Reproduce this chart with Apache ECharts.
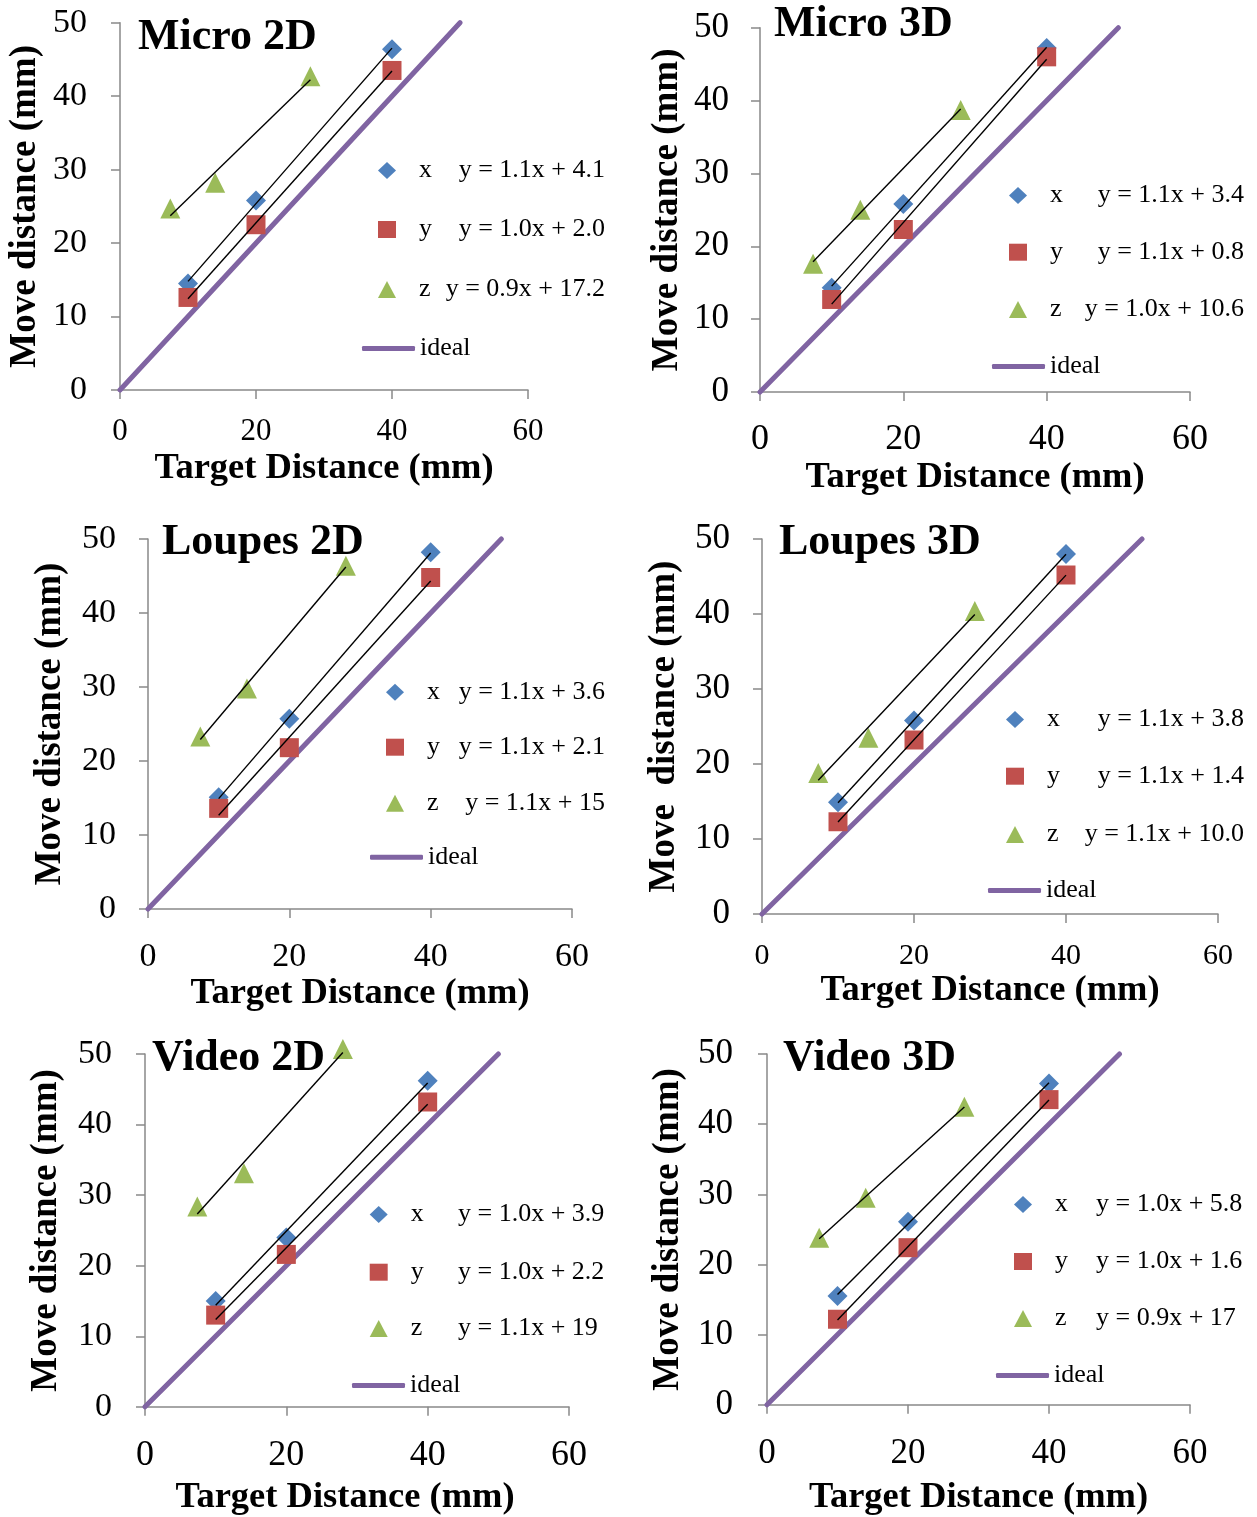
<!DOCTYPE html>
<html>
<head>
<meta charset="utf-8">
<script src="https://cdn.jsdelivr.net/npm/echarts@6/dist/echarts.min.js"></script>
<style>html,body{margin:0;padding:0;background:#fff}#c{width:1257px;height:1517px}</style>
</head>
<body>
<div id="c"></div>
<script>
// ---------- data ----------
const panelTitles = ['Micro 2D', 'Micro 3D', 'Loupes 2D', 'Loupes 3D', 'Video 2D', 'Video 3D'];
const xAxisName = 'Target Distance (mm)';
const yAxisNames = ['Move distance (mm)', 'Move distance (mm)', 'Move distance (mm)', 'Move  distance (mm)', 'Move distance (mm)', 'Move distance (mm)'];
const seriesNames = ['x', 'y', 'z'];
const idealName = 'ideal';
const targetXY = [10, 20, 40];
const targetZ = [7.4, 14, 28];
const moveX = [
  [14.5, 25.8, 46.4],
  [14.3, 25.8, 47.2],
  [15.1, 25.7, 48.2],
  [14.9, 25.8, 48.0],
  [15.0, 24.0, 46.2],
  [15.5, 26.1, 45.8]
];
const moveY = [
  [12.6, 22.5, 43.5],
  [12.7, 22.3, 46.0],
  [13.6, 21.8, 44.8],
  [12.3, 23.2, 45.2],
  [13.0, 21.6, 43.2],
  [12.2, 22.4, 43.5]
];
const moveZ = [
  [24.7, 28.2, 42.7],
  [17.6, 25.0, 38.7],
  [23.3, 29.8, 46.4],
  [18.8, 23.5, 40.4],
  [28.4, 33.1, 50.7],
  [23.8, 29.5, 42.5]
];
const eqX = ['y = 1.1x + 4.1', 'y = 1.1x + 3.4', 'y = 1.1x + 3.6', 'y = 1.1x + 3.8', 'y = 1.0x + 3.9', 'y = 1.0x + 5.8'];
const eqY = ['y = 1.0x + 2.0', 'y = 1.1x + 0.8', 'y = 1.1x + 2.1', 'y = 1.1x + 1.4', 'y = 1.0x + 2.2', 'y = 1.0x + 1.6'];
const eqZ = ['y = 0.9x + 17.2', 'y = 1.0x + 10.6', 'y = 1.1x + 15', 'y = 1.1x + 10.0', 'y = 1.1x + 19', 'y = 0.9x + 17'];
const idealLine = [[0, 0], [50, 50]];
const xRange = [0, 60], xStep = 20;
const yRange = [0, 50], yStep = 10;

// ---------- layout / style ----------
const FONT = "'Liberation Serif', 'Times New Roman', serif";
const COLORS = ['#4f81bd', '#c0504d', '#9bbb59'];
const SYMBOLS = ['diamond', 'rect', 'triangle'];
const SYMSIZE = [20, 19, 20];
const PURPLE = '#8064a2';
const AXIS_C = '#898989';
const TXT_HALF = 12.5; // half height of legend text box
const L = [
  {l:120, r:528, t:22.7, b:390, title:[138,16], yLab:34, xLab:31, yM:33, xM:26, xNG:60, yNG:76, xShift:0,
   leg:{cx:387, rows:[170,229,289], idealY:348, idealL:362, eqX:605, eqAlign:'right'}},
  {l:760, r:1190, t:27.7, b:392, title:[774,3], yLab:35, xLab:36, yM:31, xM:30, xNG:49, yNG:74.5, xShift:0,
   leg:{cx:1018, rows:[195,251.7,309], idealY:366, idealL:992, eqX:1244, eqAlign:'right'}},
  {l:148, r:572, t:539, b:909, title:[162,521], yLab:34, xLab:34, yM:32, xM:31.5, xNG:48.4, yNG:79, xShift:0,
   leg:{cx:395, rows:[691.7,746.7,802.7], idealY:856.7, idealL:370, eqX:605, eqAlign:'right'}},
  {l:762, r:1218, t:539, b:914, title:[779,521], yLab:35, xLab:30, yM:32, xM:27, xNG:46.4, yNG:79, xShift:0,
   leg:{cx:1015, rows:[719,775.7,834], idealY:890, idealL:988, eqX:1244, eqAlign:'right'}},
  {l:145, r:569, t:1054, b:1412, title:[152,1037], yLab:34, xLab:36, yM:33, xM:31, xNG:72.4, yNG:80, xShift:-12,
   leg:{cx:378.7, rows:[1214,1271.7,1328], idealY:1385, idealL:352, eqX:458, eqAlign:'left'}},
  {l:767, r:1190, t:1054, b:1409, title:[783,1037], yLab:35, xLab:35, yM:34, xM:31.7, xNG:74.4, yNG:80, xShift:0,
   leg:{cx:1023, rows:[1204,1261,1318], idealY:1375, idealL:996, eqX:1096, eqAlign:'left'}}
];

function regression(xs, ys) {
  const n = xs.length;
  const mx = xs.reduce((a, b) => a + b, 0) / n;
  const my = ys.reduce((a, b) => a + b, 0) / n;
  let sxy = 0, sxx = 0;
  for (let i = 0; i < n; i++) { sxy += (xs[i] - mx) * (ys[i] - my); sxx += (xs[i] - mx) ** 2; }
  const m = sxy / sxx, c = my - m * mx;
  const x0 = Math.min(...xs), x1 = Math.max(...xs);
  return [[x0, m * x0 + c], [x1, m * x1 + c]];
}

const grid = [], xAxis = [], yAxis = [], series = [], legend = [], title = [], graphic = [];
L.forEach((p, i) => {
  grid.push({left: p.l, top: p.t, width: p.r - p.l, height: p.b - p.t, containLabel: false});
  const axisCommon = {
    axisLine: {show: true, onZero: false, lineStyle: {color: AXIS_C, width: 1.5}},
    axisTick: {show: true, inside: false, length: 9, lineStyle: {color: AXIS_C, width: 1.5}},
    splitLine: {show: false}
  };
  xAxis.push(Object.assign({
    gridIndex: i, type: 'value', min: xRange[0], max: xRange[1], interval: xStep,
    name: xAxisName, nameLocation: 'middle', nameGap: p.xNG,
    nameTextStyle: {fontFamily: FONT, fontWeight: 'bold', fontSize: 36.5, lineHeight: 36.5, color: '#000',
      padding: p.xShift < 0 ? [0, -2 * p.xShift, 0, 0] : 0},
    axisLabel: {fontFamily: FONT, fontSize: p.xLab, lineHeight: p.xLab, color: '#000', margin: p.xM}
  }, axisCommon));
  yAxis.push(Object.assign({
    gridIndex: i, type: 'value', min: yRange[0], max: yRange[1], interval: yStep,
    name: yAxisNames[i], nameLocation: 'middle', nameGap: p.yNG, nameRotate: 90,
    nameTextStyle: {fontFamily: FONT, fontWeight: 'bold', fontSize: 37, lineHeight: 37, color: '#000'},
    axisLabel: {fontFamily: FONT, fontSize: p.yLab, lineHeight: p.yLab, color: '#000', margin: p.yM}
  }, axisCommon));

  const sets = [
    [targetXY, moveX[i]],
    [targetXY, moveY[i]],
    [targetZ, moveZ[i]]
  ];
  sets.forEach((s, k) => {
    series.push({
      type: 'scatter', name: seriesNames[k], xAxisIndex: i, yAxisIndex: i,
      data: s[0].map((v, j) => [v, s[1][j]]),
      symbol: SYMBOLS[k], symbolSize: SYMSIZE[k], clip: false, z: 3,
      itemStyle: {color: COLORS[k], opacity: 1}, color: COLORS[k],
      emphasis: {disabled: true}
    });
  });
  sets.forEach((s, k) => {
    series.push({
      type: 'line', name: 'trend', xAxisIndex: i, yAxisIndex: i,
      data: regression(s[0], s[1]), showSymbol: false, symbol: 'none', clip: false, silent: true, z: 4,
      lineStyle: {color: '#000', width: 1.4}, emphasis: {disabled: true}
    });
  });
  series.push({
    type: 'line', name: idealName, xAxisIndex: i, yAxisIndex: i,
    data: idealLine, showSymbol: false, symbol: 'none', clip: false, silent: true, z: 2,
    color: PURPLE, lineStyle: {color: PURPLE, width: 5, cap: 'round'}, emphasis: {disabled: true}
  });

  const lg = p.leg;
  seriesNames.forEach((n, k) => {
    legend.push({
      orient: 'vertical', left: lg.cx - 9, top: lg.rows[k] - TXT_HALF, padding: 0,
      itemWidth: 18, itemHeight: 17, selectedMode: false,
      data: [{name: n, icon: SYMBOLS[k]}],
      textStyle: {fontFamily: FONT, fontSize: 26, color: '#000', padding: [0, 0, 0, 18]}
    });
  });
  legend.push({
    orient: 'vertical', left: lg.idealL, top: lg.idealY - TXT_HALF, padding: 0,
    itemWidth: 53, itemHeight: 5, selectedMode: false,
    data: [{name: idealName, icon: 'roundRect'}],
    textStyle: {fontFamily: FONT, fontSize: 26, color: '#000'}
  });
  const eqs = [eqX[i], eqY[i], eqZ[i]];
  eqs.forEach((t, k) => {
    graphic.push({
      type: 'text', x: lg.eqX, y: lg.rows[k], silent: true,
      style: {text: t, fontFamily: FONT, fontSize: 26, fill: '#000', align: lg.eqAlign, verticalAlign: 'middle'}
    });
  });
  title.push({
    text: panelTitles[i], left: p.title[0], top: p.title[1], padding: 0,
    textStyle: {fontFamily: FONT, fontWeight: 'bold', fontSize: 44, lineHeight: 44, color: '#000'}
  });
});

const chart = echarts.init(document.getElementById('c'), null, {renderer: 'canvas'});
chart.setOption({
  animation: false,
  backgroundColor: '#fff',
  title, grid, xAxis, yAxis, series, legend, graphic,
  tooltip: {show: false}
});
</script>
</body>
</html>
